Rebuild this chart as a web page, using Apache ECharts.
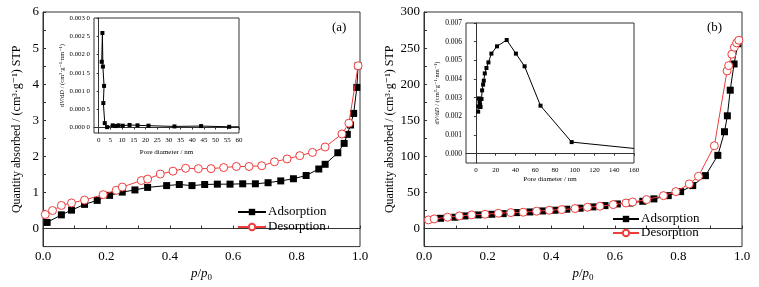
<!DOCTYPE html>
<html>
<head>
<meta charset="utf-8">
<script src="https://cdn.jsdelivr.net/npm/echarts@6/dist/echarts.min.js"></script>
<style>
  html, body { margin: 0; padding: 0; background: #fff; }
  #chart { width: 759px; height: 287px; }
</style>
</head>
<body>
<div id="chart"></div>
<script>
// (a) isotherm, p/p0 vs quantity
const adsA = [[0.013,0.17],[0.058,0.38],[0.090,0.51],[0.131,0.67],[0.171,0.78],[0.210,0.92],[0.25,1.01],[0.29,1.07],[0.33,1.14],[0.39,1.19],[0.43,1.22],[0.47,1.19],[0.51,1.22],[0.55,1.23],[0.59,1.23],[0.63,1.24],[0.67,1.24],[0.71,1.27],[0.75,1.32],[0.79,1.38],[0.83,1.47],[0.87,1.65],[0.89,1.78],[0.93,2.10],[0.95,2.36],[0.96,2.61],[0.97,2.87],[0.98,3.19],[0.99,3.91],[0.994,4.51]];
const desA = [[0.007,0.39],[0.03,0.50],[0.058,0.64],[0.09,0.71],[0.131,0.79],[0.19,0.94],[0.231,1.06],[0.25,1.15],[0.31,1.33],[0.33,1.37],[0.37,1.51],[0.41,1.59],[0.45,1.67],[0.49,1.66],[0.53,1.66],[0.57,1.69],[0.61,1.72],[0.65,1.72],[0.69,1.74],[0.73,1.85],[0.77,1.93],[0.81,2.02],[0.85,2.11],[0.89,2.26],[0.943,2.62],[0.965,2.92],[0.994,4.51]];
// (a) inset, pore diameter vs dV/dD
const poreA = [[1.3,0.00180],[1.6,0.00259],[1.8,0.00167],[2.3,0.00114],[2.0,0.00067],[2.6,0.00012],[3.6,0.00001],[6.0,0.00006],[7.2,0.00004],[8.5,0.00006],[10.3,0.00005],[13.2,0.00007],[16.6,0.00006],[21.3,0.00005],[32.4,0.00003],[43.8,0.00004],[55.8,0.00002]];
const poreAEnd = [60, 0.00002];

// (b) isotherm
const adsB = [[0.052,14.2],[0.097,15.7],[0.129,17.5],[0.171,18.9],[0.213,19.8],[0.249,20.7],[0.291,22.1],[0.333,23.0],[0.373,24.4],[0.412,25.4],[0.449,26.8],[0.491,28.2],[0.531,30.0],[0.569,31.8],[0.608,34.1],[0.648,35.4],[0.688,37.8],[0.723,41.1],[0.768,45.6],[0.807,51.2],[0.845,59.5],[0.885,73.3],[0.924,101.4],[0.945,134.1],[0.954,156.2],[0.963,191.7],[0.975,228],[0.987,256]];
const desB = [[0.014,12.0],[0.032,13.4],[0.074,15.7],[0.111,17.5],[0.150,18.9],[0.192,19.8],[0.234,21.2],[0.273,22.1],[0.312,22.6],[0.354,24.0],[0.394,25.4],[0.433,26.3],[0.475,27.7],[0.514,29.5],[0.553,30.9],[0.595,33.2],[0.635,35.4],[0.656,36.8],[0.700,40.1],[0.753,45.6],[0.792,51.2],[0.834,61.8],[0.863,72.3],[0.913,114.7],[0.953,218.4],[0.958,225.7],[0.968,241.5],[0.976,251.2],[0.983,257.2],[0.990,260.9]];
// (b) inset
const poreB = [[2.3,0.00225],[2.3,0.00253],[3.0,0.00296],[3.7,0.00280],[4.3,0.00262],[4.7,0.00250],[5.7,0.00293],[6.3,0.00339],[7.3,0.00370],[8.0,0.00391],[9.0,0.00430],[10.7,0.00459],[12.7,0.00489],[15.7,0.00536],[21.4,0.00575],[31.2,0.00609],[40.5,0.00536],[49.3,0.00468],[65.4,0.00257],[96.9,0.00062]];
const poreBEnd = [160, 0.00028];

// tick labels
const pTicks = [0, 0.2, 0.4, 0.6, 0.8, 1.0];
const qTicksA = [0, 1, 2, 3, 4, 5, 6];
const qTicksB = [0, 50, 100, 150, 200, 250, 300];
const dTicksA = [0, 5, 10, 15, 20, 25, 30, 35, 40, 45, 50, 55, 60];
const vTicksA = [0, 0.0005, 0.001, 0.0015, 0.002, 0.0025, 0.003];
const dTicksB = [0, 20, 40, 60, 80, 100, 120, 140, 160];
const vTicksB = [0, 0.001, 0.002, 0.003, 0.004, 0.005, 0.006, 0.007];

const serif = '"Liberation Serif", "DejaVu Serif", serif';
const axisColor = '#333';
const red = '#f03c3c';

const yName = 'Quantity absorbed / (cm³·g⁻¹) STP';
const xName = '{i|p}/{i|p}{s|0}';
const insetYName = 'd{i|V}/d{i|D} / (cm³·g⁻¹·nm⁻¹)';

function mainX(grid) {
  return {
    type: 'value', gridIndex: grid, min: 0, max: 1, interval: 0.1,
    name: xName, nameLocation: 'middle', nameGap: 15,
    nameTextStyle: {
      color: '#000', fontFamily: serif, fontSize: 13,
      rich: { i: { fontStyle: 'italic', fontFamily: serif, fontSize: 13 }, s: { fontFamily: serif, fontSize: 9, padding: [7, 0, 0, 0] } }
    },
    axisLine: { lineStyle: { color: axisColor } },
    axisTick: { inside: true, length: 3, lineStyle: { color: axisColor } },
    axisLabel: { customValues: pTicks, formatter: v => v.toFixed(1), color: '#000', fontFamily: serif, fontSize: 13, margin: 3 },
    splitLine: { show: false }
  };
}

function mainY(grid, min, max, step, ticks, gap) {
  return {
    type: 'value', gridIndex: grid, min: min, max: max, interval: step,
    name: yName, nameLocation: 'middle', nameGap: gap, nameRotate: 90,
    nameTextStyle: { color: '#000', fontFamily: serif, fontSize: 12 },
    axisLine: { lineStyle: { color: axisColor } },
    axisTick: { inside: true, length: 3, lineStyle: { color: axisColor } },
    axisLabel: { customValues: ticks, color: '#000', fontFamily: serif, fontSize: 13, margin: 4 },
    splitLine: { show: false }
  };
}

function insetX(grid, min, max, ticks, gap) {
  return {
    type: 'value', gridIndex: grid, min: min, max: max,
    name: 'Pore diameter / nm', nameLocation: 'middle', nameGap: gap,
    nameTextStyle: { color: '#000', fontFamily: serif, fontSize: 7 },
    axisLine: { lineStyle: { color: axisColor } },
    axisTick: { customValues: ticks, length: 2, lineStyle: { color: axisColor } },
    axisLabel: { customValues: ticks, color: '#000', fontFamily: serif, fontSize: 7, margin: 4 },
    splitLine: { show: false }
  };
}

function insetY(grid, min, max, ticks, fmt, gap, size) {
  return {
    type: 'value', gridIndex: grid, min: min, max: max,
    name: insetYName, nameLocation: 'middle', nameGap: gap, nameRotate: 90,
    nameTextStyle: { color: '#000', fontFamily: serif, fontSize: 6.5, rich: { i: { fontStyle: 'italic', fontFamily: serif, fontSize: 6.5 } } },
    axisLine: { lineStyle: { color: axisColor } },
    axisTick: { customValues: ticks, length: 2, lineStyle: { color: axisColor } },
    axisLabel: { customValues: ticks, formatter: fmt, color: '#000', fontFamily: serif, fontSize: size, margin: 4 },
    splitLine: { show: false }
  };
}

function adsSeries(x, data, z) {
  return {
    name: 'Adsorption', type: 'line', xAxisIndex: x, yAxisIndex: x, data: data, z: z,
    symbol: 'rect', symbolSize: 7, lineStyle: { color: '#000', width: 1 },
    itemStyle: { color: '#000' }, animation: false
  };
}

function desSeries(x, data, z) {
  return {
    name: 'Desorption', type: 'line', xAxisIndex: x, yAxisIndex: x, data: data, z: z,
    symbol: 'circle', symbolSize: 8, lineStyle: { color: red, width: 1 },
    itemStyle: { color: '#fff', borderColor: red, borderWidth: 1 }, animation: false
  };
}

function poreSeries(x, data, end) {
  return {
    type: 'line', xAxisIndex: x, yAxisIndex: x, z: 5,
    data: data.concat([{ value: end, symbol: 'none' }]),
    symbol: 'rect', symbolSize: 4, lineStyle: { color: '#000', width: 1 },
    itemStyle: { color: '#000' }, animation: false
  };
}

const fmtA = v => { const s = v.toFixed(4); return s.slice(0, 5) + ' ' + s.slice(5); };
const fmtB = v => v.toFixed(3);

function legendAt(left, top, width, gap) {
  return {
    orient: 'vertical', left: left, top: top, padding: 0,
    itemWidth: width, itemHeight: 8, itemGap: gap,
    formatter: '{t|{name}}',
    textStyle: {
      color: '#000', fontFamily: serif, fontSize: 13, lineHeight: 14, padding: [0, 0, 0, -3],
      rich: { t: { fontFamily: serif, fontSize: 13, color: '#000', lineHeight: 14 } }
    },
    data: ['Adsorption', 'Desorption']
  };
}

const chart = echarts.init(document.getElementById('chart'), null, { renderer: 'canvas' });

const option = {
  backgroundColor: '#fff',
  animation: false,
  textStyle: { fontFamily: serif },
  grid: [
    { left: 43, top: 12, width: 317, height: 236, show: true, borderColor: axisColor, borderWidth: 1 },
    { left: 94, top: 18, width: 145, height: 115, show: true, borderColor: axisColor, borderWidth: 1 },
    { left: 424, top: 12, width: 318, height: 236, show: true, borderColor: axisColor, borderWidth: 1 },
    { left: 466, top: 23, width: 168, height: 140, show: true, borderColor: axisColor, borderWidth: 1 }
  ],
  xAxis: [
    mainX(0),
    insetX(1, -2, 60, dTicksA, 16),
    mainX(2),
    insetX(3, -10, 160, dTicksB, 13)
  ],
  yAxis: [
    mainY(0, -0.5, 6, 0.5, qTicksA, 20),
    insetY(1, -0.00015, 0.003, vTicksA, fmtA, 26, 6.8),
    mainY(2, -25, 300, 25, qTicksB, 28),
    insetY(3, -0.0005, 0.007, vTicksB, fmtB, 24, 7.5)
  ],
  legend: [
    legendAt(237, 205, 28, 1),
    legendAt(612, 212, 26, 0)
  ],
  graphic: [
    { type: 'text', left: 332, top: 21, style: { text: '(a)', fill: '#000', font: '13px ' + serif } },
    { type: 'text', left: 707, top: 21, style: { text: '(b)', fill: '#000', font: '13px ' + serif } }
  ],
  series: [
    adsSeries(0, adsA, 3),
    desSeries(0, desA, 4),
    poreSeries(1, poreA, poreAEnd),
    adsSeries(2, adsB, 3),
    desSeries(2, desB, 4),
    poreSeries(3, poreB, poreBEnd)
  ]
};

chart.setOption(option);
</script>
</body>
</html>
